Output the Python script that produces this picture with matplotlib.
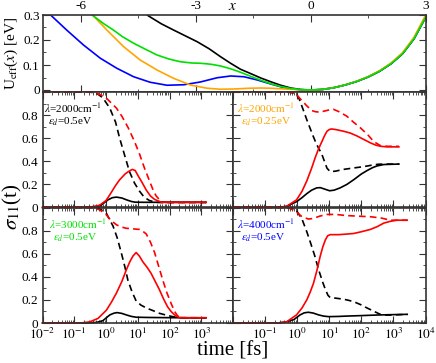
import numpy as np
import matplotlib.pyplot as plt
from matplotlib.ticker import MultipleLocator, LogLocator, NullFormatter

plt.rcParams['font.family'] = 'Liberation Serif'
plt.rcParams['mathtext.fontset'] = 'stix'
plt.rcParams['axes.unicode_minus'] = False

# ---- effective potential (top panel) ----
x_right = [0, 0.3, 0.6, 0.9, 1.2, 1.5, 1.8, 2.1, 2.4, 2.7, 3.0, 3.1]
u_right = [0, 0.002, 0.009, 0.02, 0.034, 0.052, 0.075, 0.105, 0.145, 0.205, 0.29, 0.32]

x_black = [-4.6, -4.23, -3.9, -3.58, -3.25, -2.96, -2.65, -2.35, -2.09, -1.83,
           -1.57, -1.3, -1.04, -0.78, -0.52, -0.26]
u_black = [0.34, 0.296, 0.265, 0.24, 0.215, 0.193, 0.165, 0.133, 0.107, 0.083,
           0.066, 0.048, 0.033, 0.019, 0.008, 0.002]

x_green = [-5.9, -5.67, -5.4, -5.15, -4.9, -4.62, -4.3, -4.01, -3.7, -3.4, -3.1,
           -2.88, -2.6, -2.35, -2.09, -1.83, -1.57, -1.3, -1.04, -0.78, -0.52, -0.26]
u_green = [0.33, 0.296, 0.265, 0.24, 0.212, 0.187, 0.162, 0.14, 0.124, 0.113, 0.108,
           0.107, 0.103, 0.096, 0.085, 0.071, 0.055, 0.039, 0.025, 0.014, 0.006, 0.0015]

x_orange = [-5.9, -5.67, -5.32, -4.88, -4.45, -4.01, -3.58, -3.14, -2.70, -2.35,
            -2.0, -1.6, -1.3, -1.04, -0.78, -0.52, -0.26]
u_orange = [0.33, 0.296, 0.24, 0.173, 0.12, 0.08, 0.047, 0.02, 0.007, 0.003,
            0.004, 0.007, 0.008, 0.007, 0.005, 0.003, 0.001]

x_blue = [-7.0, -6.76, -6.37, -5.93, -5.49, -5.06, -4.62, -4.19, -3.75, -3.31,
          -2.88, -2.44, -2.09, -1.74, -1.39, -1.04, -0.78, -0.52, -0.26]
u_blue = [0.345, 0.296, 0.24, 0.18, 0.127, 0.087, 0.053, 0.031, 0.019, 0.021,
          0.032, 0.049, 0.056, 0.053, 0.04, 0.024, 0.013, 0.005, 0.001]

# ---- sigma_11(t) panels, times as log10(t/fs) ----
# panel 1: lambda=2000, eps=0.5
lt_bd1 = [-2, -0.5, -0.3, -0.1, 0.12, 0.3, 0.43, 0.6, 0.74, 0.9, 1.06, 1.2, 1.37, 1.58, 1.8, 2.2, 3.15]
v_bd1 = [1, 1, 0.99, 0.95, 0.86, 0.74, 0.60, 0.44, 0.31, 0.21, 0.14, 0.09, 0.06, 0.045, 0.043, 0.043, 0.043]
lt_rd1 = [-2, -0.5, -0.2, 0.0, 0.33, 0.5, 0.70, 0.9, 1.06, 1.2, 1.37, 1.5, 1.58, 1.74, 1.9, 3.15]
v_rd1 = [1, 1, 0.98, 0.95, 0.86, 0.79, 0.69, 0.57, 0.46, 0.35, 0.23, 0.14, 0.10, 0.05, 0.045, 0.045]
lt_rs1 = [-2, -0.8, -0.5, -0.2, 0.0, 0.12, 0.3, 0.43, 0.6, 0.70, 0.83, 0.92, 1.0, 1.15, 1.27,
          1.4, 1.53, 1.74, 2.0, 3.15]
v_rs1 = [0, 0, 0.003, 0.02, 0.06, 0.11, 0.19, 0.24, 0.29, 0.31, 0.33, 0.32, 0.28, 0.21, 0.15,
         0.10, 0.07, 0.046, 0.045, 0.045]
lt_bs1 = [-2, -0.8, -0.4, -0.2, 0.06, 0.2, 0.33, 0.5, 0.65, 0.8, 0.92, 1.2, 3.15]
v_bs1 = [0, 0, 0.003, 0.01, 0.066, 0.085, 0.09, 0.082, 0.066, 0.052, 0.046, 0.045, 0.045]

# panel 2: lambda=2000, eps=0.25
lt_bd2 = [-2, -0.3, -0.06, 0.05, 0.17, 0.3, 0.48, 0.6, 0.77, 0.93, 1.03, 1.2, 1.45, 1.7,
          1.97, 2.2, 2.39, 2.55, 2.7, 3.17]
v_bd2 = [1, 1, 0.99, 0.95, 0.86, 0.76, 0.63, 0.55, 0.46, 0.34, 0.31, 0.315, 0.33, 0.34,
         0.35, 0.36, 0.37, 0.375, 0.376, 0.376]
lt_rd2 = [-2, -0.3, -0.06, 0.1, 0.3, 0.45, 0.56, 0.7, 0.85, 1.0, 1.13, 1.3, 1.55, 1.75,
          1.97, 2.2, 2.39, 2.6, 2.8, 3.17]
v_rd2 = [1, 1, 0.99, 0.94, 0.88, 0.84, 0.83, 0.825, 0.835, 0.845, 0.85, 0.83, 0.79, 0.74,
         0.69, 0.63, 0.57, 0.535, 0.53, 0.53]
lt_rs2 = [-2, -0.6, -0.33, -0.02, 0.15, 0.3, 0.45, 0.56, 0.67, 0.77, 0.85, 0.93, 1.0, 1.07,
          1.2, 1.45, 1.65, 1.86, 2.07, 2.28, 2.45, 2.6, 2.8, 3.17]
v_rs2 = [0, 0, 0.01, 0.066, 0.14, 0.23, 0.34, 0.43, 0.51, 0.57, 0.62, 0.66, 0.675, 0.68,
         0.675, 0.66, 0.645, 0.62, 0.59, 0.56, 0.54, 0.53, 0.525, 0.525]
lt_bs2 = [-2, -0.6, -0.33, -0.02, 0.15, 0.3, 0.45, 0.61, 0.72, 0.85, 1.01, 1.15, 1.34, 1.55,
          1.76, 2.0, 2.18, 2.35, 2.49, 2.7, 3.17]
v_bs2 = [0, 0, 0.01, 0.05, 0.085, 0.12, 0.15, 0.17, 0.172, 0.16, 0.145, 0.15, 0.17, 0.2,
         0.24, 0.29, 0.32, 0.345, 0.36, 0.372, 0.376]

# panel 3: lambda=3000, eps=0.5
lt_bd3 = [-2, -0.4, -0.2, 0.01, 0.22, 0.35, 0.48, 0.6, 0.69, 0.82, 0.95, 1.1, 1.27, 1.5,
          1.68, 1.9, 2.1, 2.3, 3.15]
v_bd3 = [1, 1, 0.99, 0.95, 0.84, 0.74, 0.61, 0.48, 0.37, 0.27, 0.19, 0.155, 0.13, 0.105,
         0.084, 0.068, 0.055, 0.046, 0.045]
lt_rd3 = [-2, -0.4, -0.2, 0.0, 0.15, 0.33, 0.5, 0.64, 0.85, 1.06, 1.18, 1.27, 1.4, 1.53,
          1.66, 1.79, 1.92, 2.05, 2.16, 2.26, 2.4, 3.15]
v_rd3 = [1, 1, 0.98, 0.94, 0.89, 0.85, 0.83, 0.82, 0.815, 0.81, 0.79, 0.77, 0.70, 0.61,
         0.49, 0.37, 0.26, 0.17, 0.10, 0.06, 0.045, 0.045]
lt_rs3 = [-2, -0.8, -0.51, -0.25, 0.01, 0.17, 0.33, 0.5, 0.64, 0.75, 0.85, 0.95, 1.05, 1.16,
          1.3, 1.42, 1.55, 1.68, 1.81, 1.94, 2.05, 2.16, 2.31, 2.5, 3.15]
v_rs3 = [0, 0, 0.01, 0.04, 0.11, 0.18, 0.26, 0.36, 0.46, 0.53, 0.58, 0.61, 0.58, 0.53,
         0.48, 0.43, 0.36, 0.29, 0.21, 0.14, 0.10, 0.07, 0.046, 0.045, 0.045]
lt_bs3 = [-2, -0.6, -0.3, -0.1, 0.12, 0.25, 0.35, 0.5, 0.64, 0.8, 0.95, 1.3, 2, 3.15]
v_bs3 = [0, 0, 0.005, 0.02, 0.07, 0.085, 0.09, 0.083, 0.07, 0.057, 0.05, 0.048, 0.046, 0.045]

# panel 4: lambda=4000, eps=0.5
lt_bd4 = [-2, -0.3, -0.06, 0.15, 0.3, 0.41, 0.55, 0.67, 0.8, 0.88, 0.96, 1.03, 1.2, 1.34,
          1.55, 1.76, 1.97, 2.18, 2.4, 2.59, 2.8, 3.0, 3.43]
v_bd4 = [1, 1, 0.99, 0.90, 0.79, 0.70, 0.58, 0.46, 0.35, 0.29, 0.24, 0.22, 0.215, 0.21,
         0.2, 0.185, 0.16, 0.13, 0.10, 0.075, 0.068, 0.07, 0.075]
lt_rd4 = [-2, -0.3, -0.06, 0.15, 0.35, 0.5, 0.7, 0.93, 1.2, 1.55, 1.9, 2.28, 2.6, 2.91, 3.2, 3.43]
v_rd4 = [1, 1, 0.97, 0.92, 0.90, 0.905, 0.925, 0.94, 0.94, 0.93, 0.925, 0.92, 0.91, 0.89, 0.89, 0.89]
lt_rs4 = [-2, -0.6, -0.33, -0.02, 0.15, 0.3, 0.41, 0.51, 0.62, 0.72, 0.8, 0.88, 0.95, 1.03,
          1.15, 1.3, 1.55, 1.76, 2.0, 2.28, 2.5, 2.7, 2.9, 3.1, 3.43]
v_rs4 = [0, 0, 0.01, 0.07, 0.13, 0.2, 0.27, 0.345, 0.46, 0.58, 0.66, 0.72, 0.755, 0.765,
         0.765, 0.765, 0.77, 0.775, 0.79, 0.81, 0.835, 0.865, 0.88, 0.89, 0.89]
lt_bs4 = [-2, -0.6, -0.33, -0.1, 0.09, 0.22, 0.35, 0.5, 0.67, 0.82, 0.98, 1.3, 1.55, 2.0,
          2.28, 2.6, 2.91, 3.43]
v_bs4 = [0, 0, 0.01, 0.03, 0.07, 0.088, 0.093, 0.086, 0.07, 0.06, 0.055, 0.057, 0.06,
         0.064, 0.067, 0.07, 0.072, 0.075]

panels = [
    ((lt_bd1, v_bd1), (lt_rd1, v_rd1), (lt_rs1, v_rs1), (lt_bs1, v_bs1), '2000', '0.5', 'black'),
    ((lt_bd2, v_bd2), (lt_rd2, v_rd2), (lt_rs2, v_rs2), (lt_bs2, v_bs2), '2000', '0.25', '#FFA500'),
    ((lt_bd3, v_bd3), (lt_rd3, v_rd3), (lt_rs3, v_rs3), (lt_bs3, v_bs3), '3000', '0.5', '#00E000'),
    ((lt_bd4, v_bd4), (lt_rd4, v_rd4), (lt_rs4, v_rs4), (lt_bs4, v_bs4), '4000', '0.5', '#0000FF'),
]

W, H = 436, 363
fig = plt.figure(figsize=(W / 100, H / 100), dpi=100)


def box(x0, y0, x1, y1):
    return [x0 / W, 1 - y1 / H, (x1 - x0) / W, (y1 - y0) / H]


frame = '#333333'
lw = 1.2

# top panel
ax = fig.add_axes(box(42.5, 15, 425.5, 91.5))
ax.plot(x_black + x_right, u_black + u_right, color='black', lw=lw)
ax.plot(x_blue + x_right, u_blue + u_right, color='#0000FF', lw=lw)
ax.plot(x_orange + x_right, u_orange + [u * 1.03 for u in u_right], color='#FFA500', lw=lw)
ax.plot(x_green + x_right, u_green + u_right, color='#00E000', lw=lw)
ax.set_xlim(-7, 3)
ax.set_ylim(-0.006, 0.3)
ax.xaxis.set_major_locator(MultipleLocator(3))
ax.xaxis.set_minor_locator(MultipleLocator(1.5))
ax.yaxis.set_minor_locator(MultipleLocator(0.05))
ax.set_yticks([0, 0.1, 0.2, 0.3])
ax.set_yticklabels(['0', '0.1', '0.2', '0.3'])
ax.tick_params(which='both', direction='in', top=True, right=True,
               labeltop=True, labelbottom=False, labelsize=9.5, color=frame, pad=2)
ax.tick_params(which='major', length=5)
ax.tick_params(which='minor', length=2.5)
ax.set_ylabel(r'U$_{\rm eff}$($x$) [eV]', fontsize=11, labelpad=2)
for s in ax.spines.values():
    s.set_color(frame)
    s.set_linewidth(1.2)
fig.text(233 / W, 1 - 7 / H, '$x$', fontsize=11, ha='center', va='center')

boxes = [box(42.5, 92, 233, 207.5), box(233, 92, 425.5, 207.5),
         box(42.5, 207.5, 233, 323), box(233, 207.5, 425.5, 323)]
text_x = [0.01, 0.02, 0.035, 0.02]

for i, (bd, rd, rs, bs, lam, eps, tcol) in enumerate(panels):
    ax = fig.add_axes(boxes[i])
    for (lt, v), col, ls in [(bd, 'black', '--'), (rd, 'red', '--'), (bs, 'black', '-'), (rs, 'red', '-')]:
        ln, = ax.plot([10 ** t for t in lt], v, color=col, lw=lw, clip_on=False)
        if ls == '--':
            ln.set_dashes((4, 2.5))
    ax.set_xscale('log')
    ax.set_xlim(1e-2, 1e4)
    ax.set_ylim(0, 1)
    ax.set_xticks([10.0 ** k for k in range(-2, 5)])
    ax.xaxis.set_minor_locator(LogLocator(base=10, subs=np.arange(2, 10) * 1.0, numticks=20))
    ax.xaxis.set_minor_formatter(NullFormatter())
    if i >= 2:
        labs = ['$10^{%d}$' % k for k in range(-2, 5)]
        if i == 2:
            labs[-1] = ''
        else:
            labs[0] = ''
        ax.set_xticklabels(labs)
    else:
        ax.set_xticklabels([])
    ax.set_yticks([0, 0.2, 0.4, 0.6, 0.8, 1.0])
    ax.yaxis.set_minor_locator(MultipleLocator(0.1))
    if i % 2 == 0:
        ax.set_yticklabels(['0', '0.2', '0.4', '0.6', '0.8', ''])
    else:
        ax.set_yticklabels([])
    ax.tick_params(which='both', direction='in', top=True, right=True,
                   labelsize=9.5, color=frame, pad=3)
    ax.tick_params(which='major', length=5)
    ax.tick_params(which='minor', length=2.5)
    for s in ax.spines.values():
        s.set_color(frame)
        s.set_linewidth(1.2)
    ax.text(text_x[i], 0.86, r'$\lambda$=%scm$^{-1}$' % lam, transform=ax.transAxes,
            color=tcol, fontsize=8, va='center', ha='left')
    ax.text(text_x[i] + 0.02, 0.74, r'$\varepsilon_d$=%seV' % eps, transform=ax.transAxes,
            color=tcol, fontsize=8, va='center', ha='left')

fig.text(12 / W, 1 - 207 / H, r'$\sigma_{11}$(t)', rotation=90, fontsize=15,
         ha='center', va='center')
fig.text(233 / W, 1 - 351 / H, 'time [fs]', fontsize=15, ha='center', va='center')

fig.savefig('out.png', dpi=100)
